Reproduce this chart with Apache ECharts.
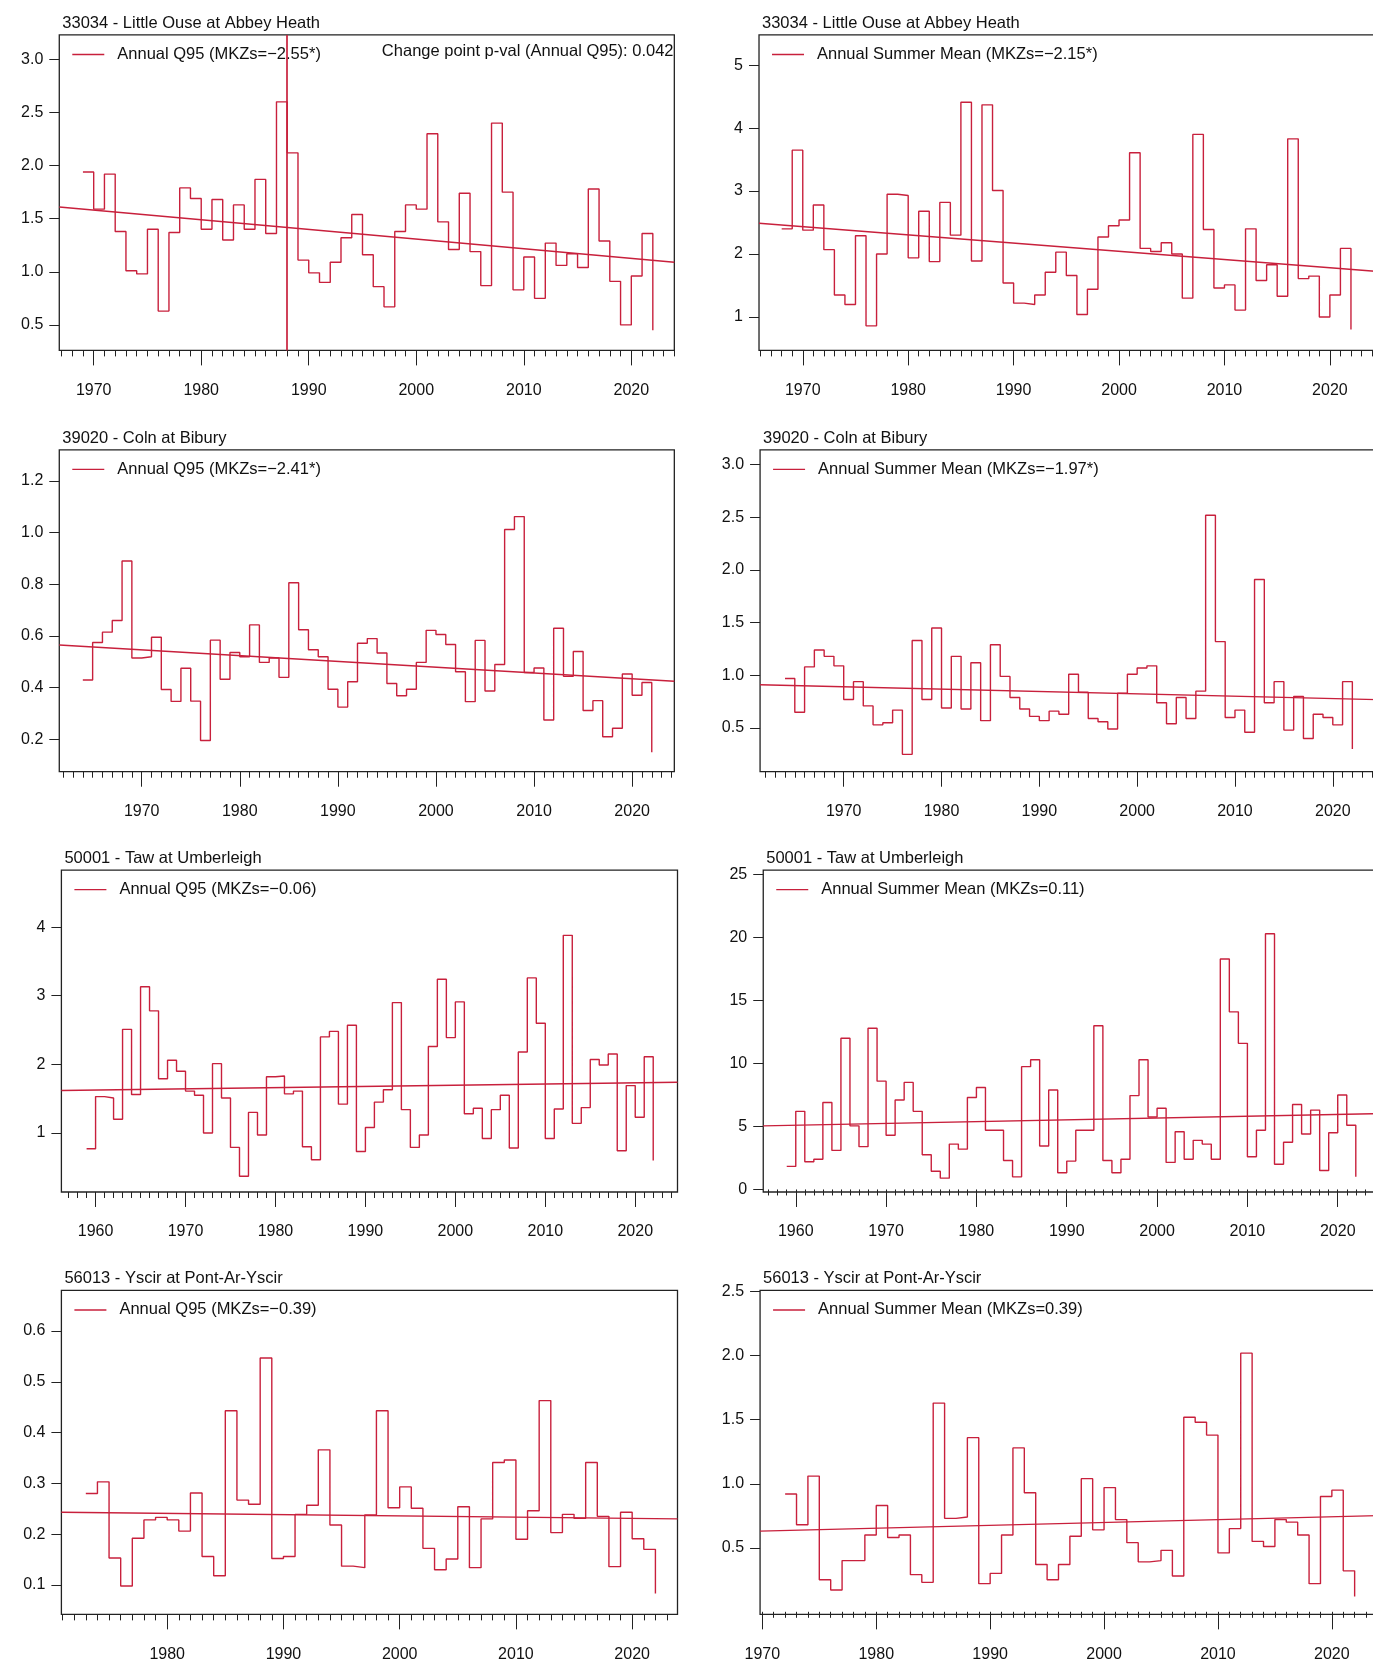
<!DOCTYPE html>
<html>
<head>
<meta charset="utf-8">
<title>Low flow trends</title>
<script src="https://cdn.jsdelivr.net/npm/echarts@6/dist/echarts.min.js"></script>
</head>
<body style="margin:0;background:#fff;width:1373px;height:1663px;overflow:hidden;">
<div id="main" style="width:1460px;height:1663px;"></div>
<script>
// --- data ---
var q95Ouse = [1.94,1.59,1.92,1.38,1.01,0.98,1.40,0.63,1.37,1.79,1.69,1.40,1.68,1.30,1.63,1.40,1.87,1.36,2.60,2.12,
  1.11,0.99,0.90,1.09,1.32,1.54,1.16,0.86,0.67,1.38,1.63,1.59,2.30,1.47,1.21,1.74,1.19,0.87,2.40,1.75,
  0.83,1.14,0.75,1.27,1.06,1.17,1.04,1.78,1.29,0.91,0.50,0.96,1.36,0.45];          // 1969-2022
var sumOuse = [2.40,3.65,2.38,2.78,2.07,1.35,1.20,2.29,0.86,2.00,2.95,2.93,1.94,2.68,1.88,2.82,2.30,4.41,1.89,4.37,
  3.01,1.54,1.22,1.20,1.35,1.71,2.03,1.66,1.04,1.44,2.27,2.45,2.54,3.61,2.09,2.04,2.18,2.00,1.30,3.90,
  2.39,1.46,1.51,1.11,2.40,1.58,1.83,1.33,3.83,1.61,1.65,1.00,1.35,2.09,0.80];      // 1968-2022
var q95Coln = [0.43,0.575,0.615,0.66,0.89,0.515,0.52,0.595,0.393,0.347,0.475,0.348,0.196,0.584,0.433,0.536,0.52,0.643,0.498,0.515,
  0.44,0.806,0.624,0.547,0.52,0.394,0.325,0.423,0.572,0.59,0.534,0.416,0.369,0.394,0.498,0.622,0.606,0.567,0.462,0.346,
  0.583,0.387,0.49,1.012,1.062,0.459,0.476,0.275,0.63,0.444,0.54,0.312,0.35,0.21,0.243,0.453,0.371,0.42,0.15]; // 1964-2022
var sumColn = [0.97,0.65,1.08,1.24,1.18,1.09,0.77,0.94,0.71,0.53,0.55,0.67,0.25,1.33,0.77,1.45,0.69,1.18,0.68,1.12,
  0.57,1.29,0.99,0.79,0.68,0.61,0.57,0.66,0.63,1.01,0.84,0.59,0.56,0.49,0.83,1.01,1.07,1.09,0.74,0.54,
  0.79,0.59,0.85,2.52,1.32,0.60,0.67,0.46,1.91,0.74,0.94,0.48,0.80,0.40,0.63,0.60,0.53,0.94,0.30];  // 1964-2022
var q95Taw = [0.77,1.53,1.51,1.20,2.51,1.56,3.13,2.78,1.79,2.06,1.90,1.61,1.55,1.00,2.01,1.51,0.79,0.37,1.30,0.97,
  1.82,1.83,1.57,1.61,0.80,0.61,2.40,2.48,1.42,2.57,0.73,1.08,1.45,1.63,2.90,1.34,0.79,0.97,2.26,3.24,
  2.39,2.91,1.28,1.36,0.92,1.34,1.55,0.78,2.18,3.26,2.60,0.92,1.35,3.88,1.14,1.37,2.07,1.99,2.15,0.74,
  1.69,1.23,2.11,0.60];                                                              // 1959-2022
var sumTaw = [1.83,6.2,2.2,2.4,6.9,3.1,12.0,5.05,3.4,12.8,8.6,4.3,7.1,8.5,6.2,2.75,1.45,0.9,3.6,3.2,
  7.3,8.1,4.7,4.7,2.3,1.0,9.75,10.3,3.45,7.9,1.33,2.25,4.7,4.7,13.0,2.3,1.33,2.4,7.45,10.3,
  5.75,6.45,2.15,4.58,2.4,3.9,3.6,2.4,18.3,14.1,11.6,2.6,4.7,20.3,2.0,3.75,6.75,4.4,6.3,1.5,
  4.5,7.5,5.1,1.0];                                                                  // 1959-2022
var q95Yscir = [0.28,0.303,0.153,0.098,0.192,0.228,0.233,0.228,0.206,0.281,0.156,0.118,0.443,0.267,0.259,0.547,0.152,0.156,0.239,0.257,
  0.366,0.218,0.137,0.134,0.238,0.443,0.252,0.293,0.251,0.172,0.13,0.151,0.254,0.134,0.23,0.341,0.346,0.19,0.246,0.463,
  0.203,0.239,0.231,0.341,0.235,0.136,0.243,0.191,0.170,0.083];                     // 1973-2022
var sumYscir = [0.92,0.68,1.06,0.25,0.17,0.40,0.40,0.60,0.83,0.58,0.60,0.29,0.23,1.63,0.73,0.74,1.36,0.22,0.30,0.60,
  1.28,0.93,0.37,0.25,0.37,0.59,1.04,0.64,0.97,0.72,0.54,0.39,0.40,0.48,0.28,1.52,1.48,1.38,0.46,0.65,
  2.02,0.55,0.51,0.72,0.70,0.60,0.22,0.90,0.95,0.32,0.12];                          // 1972-2022

var startYears = [1969, 1968, 1964, 1964, 1959, 1959, 1973, 1972];
var values = [q95Ouse, sumOuse, q95Coln, sumColn, q95Taw, sumTaw, q95Yscir, sumYscir];
// trend line ends [year, value]
var trends = [
  [[1966.8, 1.61], [2024.0, 1.09]],
  [[1965.85, 2.49], [2026.4, 1.70]],
  [[1961.6, 0.565], [2024.3, 0.425]],
  [[1961.45, 0.91], [2026.6, 0.765]],
  [[1956.2, 1.62], [2024.7, 1.74]],
  [[1956.4, 5.05], [2026.6, 6.05]],
  [[1970.9, 0.243], [2023.9, 0.23]],
  [[1969.8, 0.63], [2025.75, 0.755]]
];
var changePointYear = 1988;
var titles = ['33034 - Little Ouse at Abbey Heath', '33034 - Little Ouse at Abbey Heath',
  '39020 - Coln at Bibury', '39020 - Coln at Bibury',
  '50001 - Taw at Umberleigh', '50001 - Taw at Umberleigh',
  '56013 - Yscir at Pont-Ar-Yscir', '56013 - Yscir at Pont-Ar-Yscir'];
var names = ['Annual Q95 (MKZs=\u22122.55*)', 'Annual Summer Mean (MKZs=\u22122.15*)',
  'Annual Q95 (MKZs=\u22122.41*)', 'Annual Summer Mean (MKZs=\u22121.97*)',
  'Annual Q95 (MKZs=\u22120.06)', 'Annual Summer Mean (MKZs=0.11)',
  'Annual Q95 (MKZs=\u22120.39)', 'Annual Summer Mean (MKZs=0.39)'];
var yTicks = [
  [0.5, 1.0, 1.5, 2.0, 2.5, 3.0], [1, 2, 3, 4, 5],
  [0.2, 0.4, 0.6, 0.8, 1.0, 1.2], [0.5, 1.0, 1.5, 2.0, 2.5, 3.0],
  [1, 2, 3, 4], [0, 5, 10, 15, 20, 25],
  [0.1, 0.2, 0.3, 0.4, 0.5, 0.6], [0.5, 1.0, 1.5, 2.0, 2.5]
];
var yDecimals = [1, 0, 1, 1, 0, 0, 1, 1];
var xLabels = [
  [1970, 1980, 1990, 2000, 2010, 2020], [1970, 1980, 1990, 2000, 2010, 2020],
  [1970, 1980, 1990, 2000, 2010, 2020], [1970, 1980, 1990, 2000, 2010, 2020],
  [1960, 1970, 1980, 1990, 2000, 2010, 2020], [1960, 1970, 1980, 1990, 2000, 2010, 2020],
  [1980, 1990, 2000, 2010, 2020], [1970, 1980, 1990, 2000, 2010, 2020]
];

// --- layout (measured on a 1297px-wide view, scaled up) ---
var S = 1373 / 1297;
var boxes = [ // left, top, width, height, xmin, xmax, ymin, ymax
  [56, 33, 581, 298, 1966.8, 2024.0, 0.26, 3.23],
  [717, 33, 603, 298, 1965.85, 2026.4, 0.47, 5.48],
  [56, 425, 581, 304, 1961.6, 2024.3, 0.075, 1.32],
  [718, 425, 602, 304, 1961.45, 2026.6, 0.085, 3.14],
  [58, 822, 582, 304, 1956.2, 2024.7, 0.14, 4.83],
  [721, 822, 599, 304, 1956.4, 2026.6, -0.2, 25.35],
  [58, 1219, 582, 306, 1970.9, 2023.9, 0.042, 0.68],
  [718, 1219, 602, 306, 1969.8, 2025.75, -0.02, 2.51]
];
var RED = '#c8203c';
var FONT = 'Liberation Sans';
var FS = 16;     // tick labels
var FT = 16.5;   // titles and legends

var option = {
  animation: false,
  backgroundColor: '#fff',
  textStyle: { fontFamily: FONT },
  grid: [], xAxis: [], yAxis: [], series: [], legend: [], title: []
};

for (var i = 0; i < 8; i++) {
  var b = boxes[i];
  var L = b[0] * S, T = b[1] * S, W = b[2] * S, H = b[3] * S;
  option.grid.push({ left: L, top: T, width: W, height: H, show: true,
    borderColor: '#222', borderWidth: 1.3, backgroundColor: 'transparent' });
  var years = [];
  for (var y = Math.ceil(b[4]); y <= Math.floor(b[5]); y++) years.push(y);
  option.xAxis.push({ type: 'value', gridIndex: i, min: b[4], max: b[5], position: 'bottom',
    axisLine: { show: false }, splitLine: { show: false },
    axisTick: { show: true, length: 6, customValues: years, lineStyle: { color: '#222' } },
    axisLabel: { show: false } });
  option.xAxis.push({ type: 'value', gridIndex: i, min: b[4], max: b[5], position: 'bottom',
    axisLine: { show: false }, splitLine: { show: false },
    axisTick: { show: true, length: 15, customValues: xLabels[i], lineStyle: { color: '#222' } },
    axisLabel: { customValues: xLabels[i], margin: 32, fontSize: FS, color: '#111', fontFamily: FONT,
      formatter: function (v) { return String(v); } } });
  (function (dec) {
    option.yAxis.push({ type: 'value', gridIndex: i, min: b[6], max: b[7],
      axisLine: { show: false }, splitLine: { show: false },
      axisTick: { show: true, length: 10, customValues: yTicks[i], lineStyle: { color: '#222' } },
      axisLabel: { customValues: yTicks[i], margin: 16, fontSize: FS, color: '#111', fontFamily: FONT,
        formatter: function (v) { return v.toFixed(dec); } } });
  })(yDecimals[i]);

  var pts = [];
  for (var k = 0; k < values[i].length; k++) pts.push([startYears[i] + k, values[i][k]]);
  var s = { name: names[i], type: 'line', step: 'end', xAxisIndex: 2 * i + 1, yAxisIndex: i,
    data: pts, showSymbol: false, lineStyle: { color: RED, width: 1.4 }, itemStyle: { color: RED } };
  if (i === 0) {
    s.markLine = { symbol: 'none', silent: true, label: { show: false },
      lineStyle: { color: RED, width: 1.7, type: 'solid' }, data: [{ xAxis: changePointYear }] };
  }
  option.series.push(s);
  option.series.push({ type: 'line', xAxisIndex: 2 * i + 1, yAxisIndex: i, data: trends[i],
    showSymbol: false, lineStyle: { color: RED, width: 1.4 }, silent: true });

  option.legend.push({ data: [names[i]], left: L + 8, top: T + 6, selectedMode: false,
    icon: 'rect', itemWidth: 32, itemHeight: 1.4,
    textStyle: { fontSize: FT, color: '#111', fontFamily: FONT, padding: [0, 0, 0, 8] } });
  option.title.push({ text: titles[i], left: L - 2, top: T - 25,
    textStyle: { fontSize: FT, fontWeight: 'normal', color: '#111', fontFamily: FONT } });
}
option.title.push({ text: 'Change point p-val (Annual Q95): 0.042', left: 356 * S, top: 36 * S,
  textStyle: { fontSize: FT, fontWeight: 'normal', color: '#111', fontFamily: FONT } });

var chart = echarts.init(document.getElementById('main'));
chart.setOption(option);
</script>
</body>
</html>
